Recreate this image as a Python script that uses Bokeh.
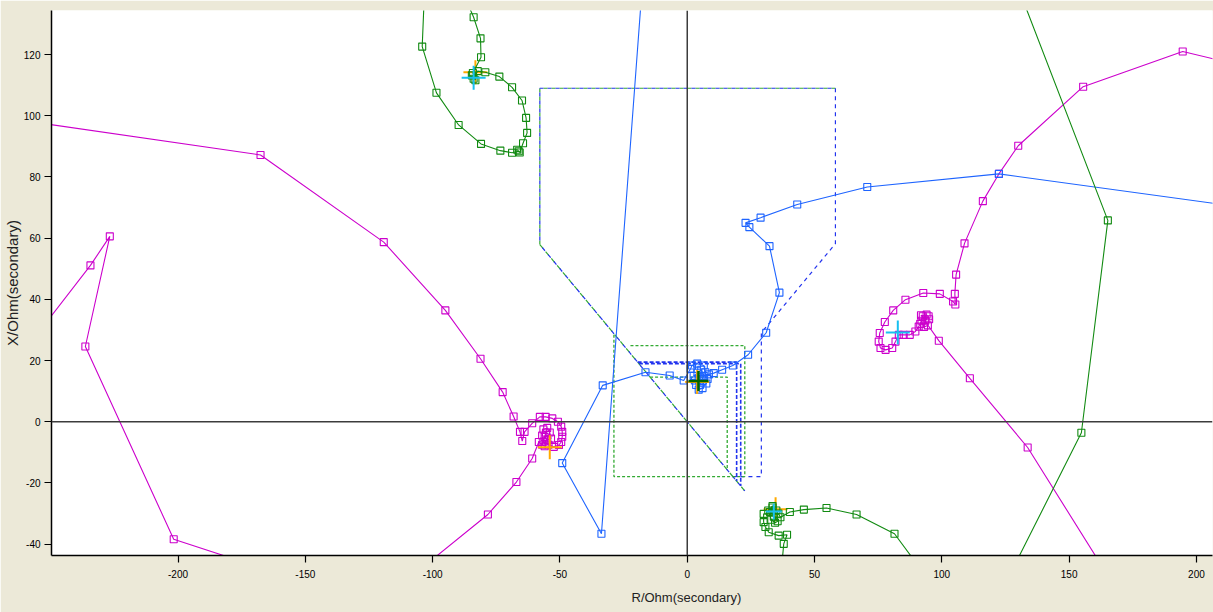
import math
from bokeh.plotting import figure
from bokeh.models import Range1d, FixedTicker, Span, Title
from bokeh.embed import file_html
from bokeh.resources import INLINE

# ---------------- data (R, X in Ohm secondary) ----------------
x_ticks = [-200, -150, -100, -50, 0, 50, 100, 150, 200]
y_ticks = [-40, -20, 0, 20, 40, 60, 80, 100, 120]
x_title = "R/Ohm(secondary)"
y_title = "X/Ohm(secondary)"

# magenta trajectories
mag1_r = [-262.0, -234.4, -226.8, -236.4, -201.7, -160.4]
mag1_x = [21.4, 51.1, 60.6, 24.6, -38.4, -49.6]

mag2_r = [-289.7, -167.6, -119.2, -95.0, -81.2, -72.5, -68.2, -65.7, -64.8, -63.9,
          -60.9, -57.9, -55.6, -53.0, -50.8, -49.5, -49.1, -49.1, -49.5, -50.4,
          -52.4, -54.5, -56.5, -57.0, -56.5, -55.0, -54.0, -53.5, -55.0, -56.0,
          -55.5, -57.0, -56.0, -58.3, -60.9, -67.1, -78.3, -113.0]
mag2_x = [101.9, 87.2, 58.7, 36.4, 20.6, 9.7, 1.7, -3.3, -6.3, -3.3,
          -0.5, 1.6, 1.6, 1.1, 0.0, -1.6, -3.3, -4.9, -6.6, -7.6,
          -8.2, -7.5, -6.5, -4.5, -2.5, -2.0, -3.5, -5.5, -6.0, -5.0,
          -3.5, -7.5, -8.0, -6.6, -12.0, -19.7, -30.3, -53.7]

mag3_r = [230.0, 194.6, 155.5, 130.0, 122.4, 116.1, 108.9, 105.6, 105.1, 105.3,
          104.4, 99.2, 92.7, 85.7, 80.9, 77.6, 75.6, 75.2, 75.9, 77.9,
          80.5, 81.8, 83.1, 85.0, 87.4, 89.6, 90.9, 91.5, 92.5, 94.0,
          95.0, 94.5, 93.0, 92.0, 93.5, 94.8, 91.8, 98.8, 111.0, 133.7, 168.0]
mag3_x = [114.0, 121.0, 109.5, 90.2, 81.0, 72.1, 58.3, 48.1, 41.8, 38.3,
          39.3, 41.8, 42.1, 39.9, 36.4, 32.6, 29.0, 26.2, 24.1, 23.5,
          24.1, 26.2, 28.4, 28.4, 28.4, 29.5, 31.1, 32.0, 34.5, 35.0,
          33.5, 31.5, 31.0, 33.0, 33.0, 34.5, 34.8, 26.5, 14.2, -8.4, -54.0]

# green trajectories
g1_r = [-103.0, -104.1, -98.5, -89.8, -81.0, -73.4, -68.8, -66.2, -66.8, -65.8,
        -64.5, -62.9, -63.3, -64.9, -68.8, -73.8, -79.3, -82.3, -83.9, -84.6,
        -83.2, -84.2, -81.0, -81.2, -83.9, -88.0]
g1_x = [145.0, 122.6, 107.5, 97.0, 90.8, 88.6, 87.9, 88.4, 88.9, 88.0,
        91.0, 94.4, 99.3, 105.0, 109.3, 112.8, 114.2, 114.6, 112.1, 113.2,
        111.6, 114.0, 119.1, 125.3, 132.2, 140.0]

g2_r = [92.0, 81.4, 66.5, 54.7, 45.8, 40.3, 36.6, 35.0, 33.5, 32.5,
        34.0, 35.5, 34.5, 33.0, 31.8, 33.5, 35.8, 30.0, 30.0, 30.7,
        32.0, 35.9, 39.2, 37.9, 36.8]
g2_x = [-48.5, -36.6, -30.3, -28.2, -28.7, -29.5, -31.2, -29.0, -28.0, -29.5,
        -31.0, -32.5, -33.0, -32.0, -29.0, -27.5, -30.0, -30.1, -32.8, -34.4,
        -36.1, -37.2, -36.9, -39.9, -50.0]

g3_r = [127.1, 165.2, 154.8, 124.5]
g3_x = [148.1, 65.8, -3.6, -53.6]

# blue trajectory
b1_r = [-17.0, -33.7, -49.1, -33.2, -16.4, -6.9, -1.4, 1.3, 1.9, 3.9,
        6.5, 7.1, 8.0, 7.5, 6.0, 4.5, 3.5, 3.0, 4.5, 6.0,
        5.0, 6.5, 5.5, 4.0, 2.5, 8.5, 10.4, 13.7, 17.9, 23.9,
        31.0, 36.2, 32.3, 24.4, 22.9, 28.8, 43.2, 70.7, 122.4, 240.0]
b1_x = [150.0, -36.6, -13.5, 11.9, 16.2, 15.1, 13.5, 17.3, 18.4, 19.0,
        18.4, 16.2, 14.0, 12.5, 11.0, 10.5, 12.0, 13.5, 14.0, 13.5,
        12.0, 15.0, 17.0, 16.0, 15.0, 15.5, 15.9, 17.0, 18.4, 21.9,
        29.1, 42.2, 57.4, 63.6, 65.0, 66.7, 71.0, 76.7, 81.0, 67.6]

# event markers
orange_r = [-54.0, 3.9, -83.2, 34.7]
orange_x = [-8.3, 13.0, 114.2, -28.6]
cyan_big_r = [-83.9, 82.7]
cyan_big_x = [112.4, 29.2]
cyan_small_r = [34.0]
cyan_small_x = [-29.3]
dkgreen_r = [4.4]
dkgreen_x = [13.3]

# relay zone characteristics
diag_r = [-57.9, 22.6]
diag_x = [57.9, -22.6]
zone_big_r = [-57.9, -57.9, 58.2, 58.2, 29.1, 29.1, 17.9]
zone_big_x = [57.9, 109.0, 109.0, 58.2, 29.1, -17.9, -17.9]
zone_big_g_r = [-57.9, -57.9, 58.2]
zone_big_g_x = [57.9, 109.0, 109.0]
zone_gout_r = [-22.3, 22.6, 22.6, -28.8, -28.8]
zone_gout_x = [24.9, 24.9, -17.9, -17.9, 28.8]
zone_gin_r = [-14.6, 15.7, 15.7]
zone_gin_x = [14.6, 14.6, -15.7]
zone_b1_r = [-19.5, 19.4, 19.4]
zone_b1_x = [19.5, 19.5, -19.4]
zone_b2_r = [-19.0, 21.0, 21.0]
zone_b2_x = [19.0, 19.0, -21.0]

# ---------------- figure ----------------
FONT = "Liberation Sans"
MAG = "#CC00CC"
GRN = "#118A11"
BLU = "#1E64FF"
ZBLU = "#2233EE"
ZGRN = "#33AA33"

p = figure(width=1213, height=612,
           x_range=Range1d(-249.7, 206.3), y_range=Range1d(-43.7, 134.4),
           output_backend="svg", toolbar_location=None,
           min_border_left=51, min_border_right=1, min_border_top=10,
           min_border_bottom=57,
           background_fill_color="white", border_fill_color="#ECE9D8",
           outline_line_color=None)
p.xgrid.visible = False
p.ygrid.visible = False

for ax, ticks in ((p.xaxis[0], x_ticks), (p.yaxis[0], y_ticks)):
    ax.ticker = FixedTicker(ticks=ticks)
    ax.major_label_overrides = {t: str(t) for t in ticks}
    ax.minor_tick_line_color = None
    ax.major_tick_in = 0
    ax.major_tick_out = 7
    ax.axis_line_color = "black"
    ax.axis_line_width = 1.5
    ax.major_tick_line_color = "black"
    ax.major_tick_line_width = 1.2
    ax.major_label_text_font = FONT
    ax.major_label_text_font_size = "10px"
    ax.major_label_text_color = "black"
p.yaxis.major_label_standoff = 4
p.xaxis.major_label_standoff = 7

# axis titles as side-panel titles
p.add_layout(Title(text=x_title, align="left", offset=580, standoff=14,
                   text_font=FONT, text_font_size="13px", text_font_style="normal",
                   text_color="#222222"), "below")
p.add_layout(Title(text=y_title, align="center", standoff=0,
                   text_font=FONT, text_font_size="15px", text_font_style="normal",
                   text_color="#222222"), "left")

# origin lines
p.add_layout(Span(location=0, dimension="width", line_color="#3C3C3C", line_width=1.5))
p.add_layout(Span(location=0, dimension="height", line_color="#3C3C3C", line_width=1.5))

# relay zones
p.line(zone_big_g_r, zone_big_g_x, line_color=ZGRN, line_width=1.2, line_dash="4 4")
p.line(zone_big_r, zone_big_x, line_color=ZBLU, line_width=1.2, line_dash="4 4", line_dash_offset=4)
p.line(diag_r, diag_x, line_color=ZGRN, line_width=1.2, line_dash="5 4")
p.line(diag_r, diag_x, line_color=ZBLU, line_width=1.2, line_dash="4 5", line_dash_offset=5)
p.line(zone_gout_r, zone_gout_x, line_color=ZGRN, line_width=1.3, line_dash="3 2")
p.line(zone_gin_r, zone_gin_x, line_color=ZGRN, line_width=1.3, line_dash="3 2")
p.line(zone_b1_r, zone_b1_x, line_color=ZBLU, line_width=1.6, line_dash="4 2")
p.line(zone_b2_r, zone_b2_x, line_color=ZBLU, line_width=1.6, line_dash="4 2")

def traj(r, x, color):
    p.line(r, x, line_color=color, line_width=1.1)
    p.scatter(r, x, marker="square", size=7, fill_color=None,
              line_color=color, line_width=1.1)

traj(mag1_r, mag1_x, MAG)
traj(mag2_r, mag2_x, MAG)
traj(mag3_r, mag3_x, MAG)
traj(b1_r, b1_x, BLU)

p.scatter(orange_r, orange_x, marker="cross", size=24, line_color="#FFAA00", line_width=2)

traj(g1_r, g1_x, GRN)
traj(g2_r, g2_x, GRN)
traj(g3_r, g3_x, GRN)

p.scatter(dkgreen_r, dkgreen_x, marker="cross", size=20, line_color="#006400", line_width=2.5)
p.scatter(cyan_big_r, cyan_big_x, marker="cross", size=24, line_color="#18C0F0", line_width=2)
p.scatter(cyan_small_r, cyan_small_x, marker="cross", size=16, line_color="#18C0F0", line_width=2)

open("out.html", "w").write(file_html(p, INLINE))
